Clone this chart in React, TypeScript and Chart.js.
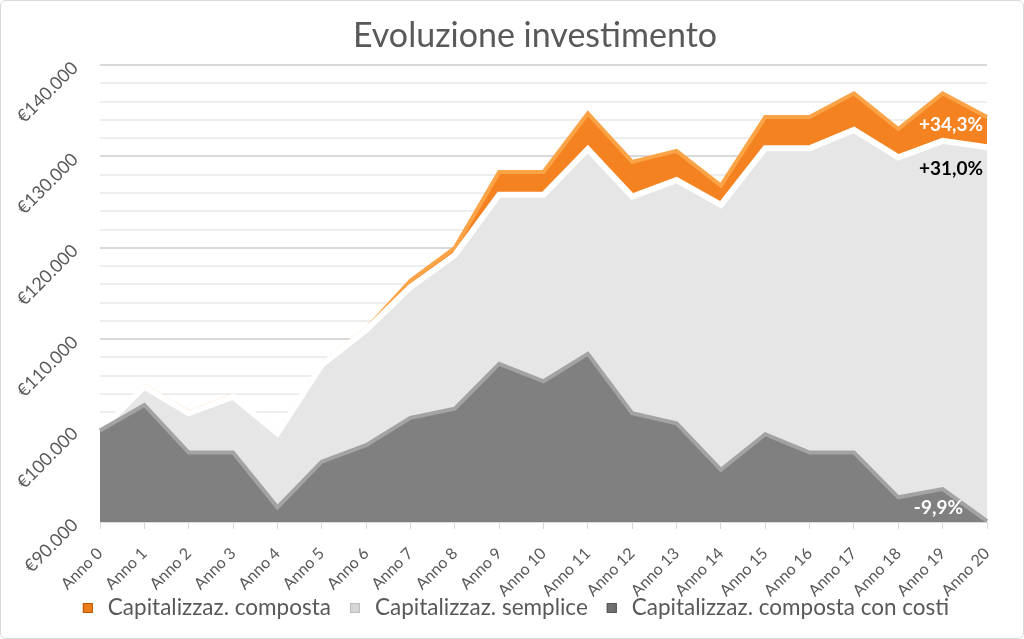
import React, { useEffect, useRef } from "react";
import { Chart, registerables } from "chart.js";

Chart.register(...registerables);

const categories = ["Anno 0","Anno 1","Anno 2","Anno 3","Anno 4","Anno 5","Anno 6","Anno 7","Anno 8","Anno 9","Anno 10","Anno 11","Anno 12","Anno 13","Anno 14","Anno 15","Anno 16","Anno 17","Anno 18","Anno 19","Anno 20"];

const composta = [100000,104900,102000,103800,99800,107300,111100,116400,120000,128300,128300,134700,129400,130600,126800,134300,134300,136900,133000,136900,134300];
const semplice = [100000,104800,101900,103700,99700,107200,111000,115700,119200,125800,125800,130800,125600,127400,124700,130900,130900,132900,129900,131700,131000];
const conCosti = [100000,102800,97600,97600,91600,96600,98400,101400,102400,107300,105400,108400,101900,100800,95700,99600,97600,97600,92700,93600,90100];

const seriesNames = ["Capitalizzaz. composta", "Capitalizzaz. semplice", "Capitalizzaz. composta con costi"];
const endLabels = ["+34,3%", "+31,0%", "-9,9%"];
const titleText = "Evoluzione investimento";

const yMin = 90000;
const yMax = 140000;
const yStep = 2000;

const FONT = "Lato, 'Liberation Sans', sans-serif";

const legendFills = ["#ef7a1a", "#d6d6d6", "#707070"];
const legendStrokes = ["#b85a10", "#bdbdbd", "#555555"];

const titlePlugin = {
  id: "customTitle",
  beforeDraw(chart: any) {
    const { ctx } = chart;
    ctx.save();
    ctx.font = `34px ${FONT}`;
    ctx.fillStyle = "#595959";
    ctx.textAlign = "center";
    ctx.textBaseline = "middle";
    ctx.fillText(titleText, 534, 35);
    ctx.restore();
  },
};

const legendPlugin = {
  id: "customLegend",
  afterDraw(chart: any) {
    const { ctx } = chart;
    ctx.save();
    ctx.font = `22.5px ${FONT}`;
    ctx.textBaseline = "middle";
    ctx.textAlign = "left";
    const box = 10;
    const gap = 15;
    const spacing = 19;
    const widths = seriesNames.map((t) => ctx.measureText(t).width);
    const total = widths.reduce((a, b) => a + b, 0) + seriesNames.length * (box + gap) + (seriesNames.length - 1) * spacing;
    let x = 515 - total / 2;
    const y = 607;
    seriesNames.forEach((t, i) => {
      ctx.fillStyle = legendFills[i];
      ctx.fillRect(x, y - box / 2, box, box);
      ctx.strokeStyle = legendStrokes[i];
      ctx.lineWidth = 1;
      ctx.strokeRect(x + 0.5, y - box / 2 + 0.5, box - 1, box - 1);
      x += box + gap;
      ctx.fillStyle = "#595959";
      ctx.fillText(t, x, y);
      x += widths[i] + spacing;
    });
    ctx.restore();
  },
};

const endLabelPlugin = {
  id: "endLabels",
  afterDatasetsDraw(chart: any) {
    const { ctx, scales } = chart;
    const xs = scales.x;
    const ys = scales.y;
    const last = categories.length - 1;
    const x = xs.getPixelForValue(last);
    ctx.save();
    ctx.font = `bold 19px ${FONT}`;
    ctx.textAlign = "right";
    ctx.textBaseline = "middle";
    ctx.fillStyle = "#ffffff";
    ctx.fillText(endLabels[0], x - 4, ys.getPixelForValue(composta[last]) + 8);
    ctx.fillStyle = "#000000";
    ctx.fillText(endLabels[1], x - 4, ys.getPixelForValue(semplice[last]) + 22);
    ctx.fillStyle = "#ffffff";
    ctx.fillText(endLabels[2], x - 24, ys.getPixelForValue(conCosti[last]) - 13);
    ctx.restore();
  },
};

export default function App() {
  const ref = useRef<HTMLCanvasElement>(null);
  useEffect(() => {
    document.body.style.margin = "0";
    const chart = new Chart(ref.current!, {
      type: "line",
      data: {
        labels: categories,
        datasets: [
          {
            label: seriesNames[0],
            data: composta,
            order: 2,
            fill: "start",
            backgroundColor: "#f58220",
            borderColor: "#fba447",
            borderWidth: 4,
            pointRadius: 0,
            tension: 0,
          },
          {
            label: seriesNames[1],
            data: semplice,
            order: 1,
            fill: "start",
            backgroundColor: "#e6e6e6",
            borderColor: "#ffffff",
            borderWidth: 6,
            pointRadius: 0,
            tension: 0,
          },
          {
            label: seriesNames[2],
            data: conCosti,
            order: 0,
            fill: "start",
            backgroundColor: "#808080",
            borderColor: "#a3a3a3",
            borderWidth: 4,
            pointRadius: 0,
            tension: 0,
          },
        ],
      },
      options: {
        responsive: false,
        animation: false,
        layout: { padding: { left: 8, right: 36, top: 64, bottom: 36 } },
        plugins: {
          title: { display: false },
          legend: { display: false },
          tooltip: { enabled: false },
        },
        scales: {
          x: {
            offset: false,
            grid: { display: true, drawOnChartArea: false, color: "#d9d9d9", tickLength: 7 },
            border: { display: true, color: "#d9d9d9" },
            ticks: {
              color: "#595959",
              font: { family: FONT, size: 16 },
              minRotation: 45,
              maxRotation: 45,
              autoSkip: false,
              padding: 15,
            },
            afterFit: (s: any) => { s.height = 80; },
          },
          y: {
            min: yMin,
            max: yMax,
            grid: {
              color: (c: any) => (c.tick && c.tick.value % 10000 === 0 ? "#d9d9d9" : "#eeeeee"),
              lineWidth: 2,
              drawTicks: false,
            },
            border: { display: false },
            ticks: {
              stepSize: yStep,
              autoSkip: false,
              color: "#595959",
              font: { family: FONT, size: 18 },
              minRotation: 45,
              maxRotation: 45,
              padding: 25,
              callback: (v: any) => (Number(v) % 10000 === 0 ? "€" + Math.round(Number(v) / 1000) + ".000" : ""),
            },
            afterFit: (s: any) => { s.width = 91; },
          },
        },
      },
      plugins: [titlePlugin, endLabelPlugin, legendPlugin],
    });
    return () => chart.destroy();
  }, []);
  return (
    <div style={{ position: "absolute", left: 0, top: 0, width: 1024, height: 639, boxSizing: "border-box", border: "1px solid #d9d9d9", borderRadius: 6, background: "#fff", overflow: "hidden" }}>
      <canvas ref={ref} width={1022} height={637} style={{ display: "block" }} />
    </div>
  );
}
